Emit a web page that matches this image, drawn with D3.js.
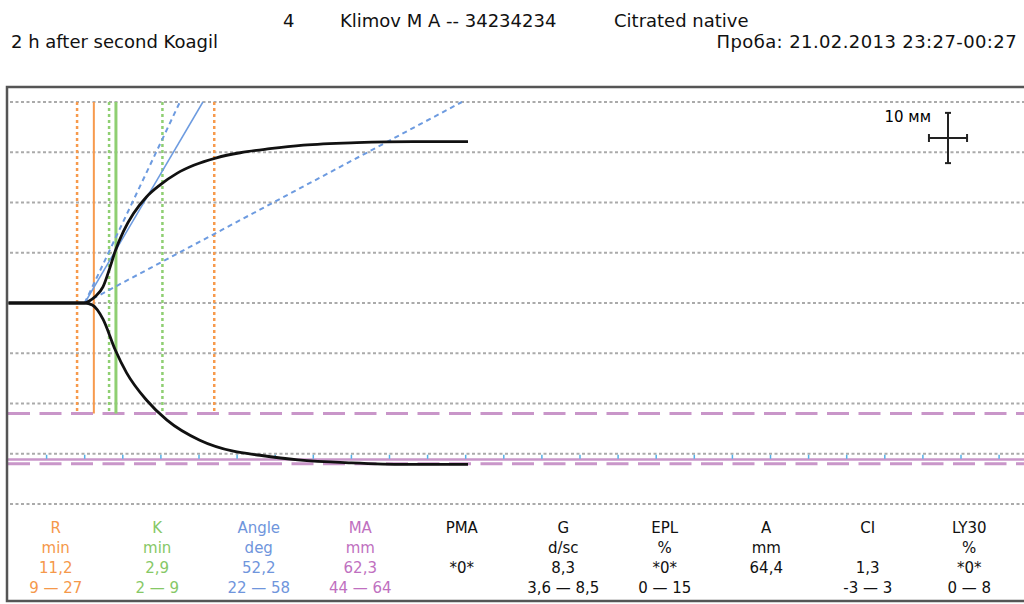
<!DOCTYPE html>
<html lang="en">
	<head>
		<meta charset="utf-8">
		<title>TEG</title>
		<script type="text/javascript" src="https://cdn.jsdelivr.net/npm/d3@7"></script>
		<style type="text/css">
			body { margin: 0; background: #fff; }
			svg { display: block; font-family: "DejaVu Sans", sans-serif; }
		</style>
	</head>
	<body>
		<script type="text/javascript">

			//Curve branches (mm from baseline) over time (min)
			let upperTime = [0, 10, 10.6, 11.35, 12.4, 13.3, 14.0, 15.1, 16.4, 18.1, 19.9, 22.1, 24.3, 27.3, 30.4, 34.3, 38.7, 45.7, 53.1, 60.3];
			let upperAmp  = [0, 0, 0.4, 1.25, 3.2, 7.0, 10.3, 14.3, 17.8, 21.1, 23.5, 25.8, 27.4, 28.9, 29.9, 30.7, 31.4, 31.9, 32.1, 32.1];
			let lowerTime = [0, 10, 11.0, 12.4, 14.0, 15.5, 18.1, 20.8, 25.1, 29.5, 33.0, 38.0, 45.0, 52.0, 60.3];
			let lowerAmp  = [0, 0, 0.4, 3.2, 9.3, 13.9, 19.3, 23.3, 27.3, 29.5, 30.3, 31.2, 31.8, 32.1, 32.1];

			//Results
			let splitTime = 10;
			let rValue = 11.2, rRange = [9, 27];
			let kValue = 2.9, kRange = [2, 9];
			let angleValue = 52.2, angleRange = [22, 58];
			let maValue = 62.3, maRange = [44, 64];

			//Grid and ticks
			let gridMM = [-40, -30, -20, -10, 0, 10, 20, 30, 40];
			let timeTicks = d3.range(5, 135, 5);

			//Table
			let colNames  = ["R", "K", "Angle", "MA", "PMA", "G", "EPL", "A", "CI", "LY30"];
			let colUnits  = ["min", "min", "deg", "mm", "", "d/sc", "%", "mm", "", "%"];
			let colValues = ["11,2", "2,9", "52,2", "62,3", "*0*", "8,3", "*0*", "64,4", "1,3", "*0*"];
			let colRanges = ["9 \u2014 27", "2 \u2014 9", "22 \u2014 58", "44 \u2014 64", "", "3,6 \u2014 8,5", "0 \u2014 15", "", "-3 \u2014 3", "0 \u2014 8"];
			let colColors = ["#f5984a", "#86c866", "#6f95dc", "#c070c0", "#111", "#111", "#111", "#111", "#111", "#111"];

			let w = 1024, h = 604;
			let orange = "#f79a4c", green = "#8fcf72", blue = "#6d9be0", pink = "#c996c9";

			let svg = d3.select("body").append("svg")
						.attr("width", w)
						.attr("height", h);

			let x = d3.scaleLinear().domain([0, 60]).range([8.5, 465.7]);
			let y = d3.scaleLinear().domain([-40, 40]).range([504, 102]);

			//Header
			let head = svg.append("g").style("font-size", "18px").attr("fill", "#111");
			head.append("text").attr("x", 283).attr("y", 27).text("4");
			head.append("text").attr("x", 340).attr("y", 27).text("Klimov M A -- 34234234");
			head.append("text").attr("x", 614).attr("y", 27).text("Citrated native");
			head.append("text").attr("x", 11).attr("y", 48).text("2 h after second Koagil");
			head.append("text").attr("x", 1017).attr("y", 48).attr("text-anchor", "end")
				.style("letter-spacing", "0.4px")
				.text("\u041f\u0440\u043e\u0431\u0430: 21.02.2013 23:27-00:27");

			//Grid
			svg.selectAll(".grid")
			   .data(gridMM)
			   .enter()
			   .append("line")
			   .attr("x1", 10).attr("x2", w)
			   .attr("y1", (d)=> y(d)).attr("y2", (d)=> y(d))
			   .attr("stroke", "#aaa")
			   .attr("stroke-width", 2)
			   .attr("stroke-dasharray", "3,2.5");

			//MA lines
			let maLines = [
				{ v: -maRange[0] / 2, dash: "22,9.5", sw: 3 },
				{ v: -maValue / 2, dash: null, sw: 2.5 },
				{ v: -maRange[1] / 2, dash: "22,9.5", sw: 3 }
			];
			svg.selectAll(".ma")
			   .data(maLines)
			   .enter()
			   .append("line")
			   .attr("x1", 8).attr("x2", w)
			   .attr("y1", (d)=> y(d.v)).attr("y2", (d)=> y(d.v))
			   .attr("stroke", pink)
			   .attr("stroke-width", (d)=> d.sw)
			   .attr("stroke-dasharray", (d)=> d.dash);

			//Blue time ticks
			svg.selectAll(".tick")
			   .data(timeTicks)
			   .enter()
			   .append("line")
			   .attr("x1", (d)=> x(d)).attr("x2", (d)=> x(d))
			   .attr("y1", y(-30.2)).attr("y2", y(-31))
			   .attr("stroke", "#55b0e8")
			   .attr("stroke-width", 1.5);

			//Vertical markers
			let vLines = [
				{ t: rRange[0], c: orange, dash: "3,3", sw: 2.5 },
				{ t: rRange[1], c: orange, dash: "3,3", sw: 2.5 },
				{ t: rValue, c: orange, dash: null, sw: 2 },
				{ t: rValue + kRange[0], c: green, dash: "3,3", sw: 2.5 },
				{ t: rValue + kRange[1], c: green, dash: "3,3", sw: 2.5 },
				{ t: rValue + kValue, c: green, dash: null, sw: 3 }
			];
			svg.selectAll(".vline")
			   .data(vLines)
			   .enter()
			   .append("line")
			   .attr("x1", (d)=> x(d.t)).attr("x2", (d)=> x(d.t))
			   .attr("y1", y(40)).attr("y2", y(-maRange[0] / 2))
			   .attr("stroke", (d)=> d.c)
			   .attr("stroke-width", (d)=> d.sw)
			   .attr("stroke-dasharray", (d)=> d.dash);

			//Angle lines (2 mm per minute)
			let angles = [
				{ a: angleRange[0], dash: "5,4", sw: 2 },
				{ a: angleRange[1], dash: "5,4", sw: 2 },
				{ a: angleValue, dash: null, sw: 1.5 }
			];
			svg.selectAll(".angle")
			   .data(angles)
			   .enter()
			   .append("line")
			   .attr("x1", x(splitTime)).attr("y1", y(0))
			   .attr("x2", (d)=> x(splitTime + 40 / (2 * Math.tan(d.a * Math.PI / 180))))
			   .attr("y2", y(40))
			   .attr("stroke", blue)
			   .attr("stroke-width", (d)=> d.sw)
			   .attr("stroke-dasharray", (d)=> d.dash);

			//Curve
			let line = d3.line()
						 .x((d)=> x(d[0]))
						 .y((d)=> y(d[1]))
						 .curve(d3.curveMonotoneX);
			let branches = [
				upperTime.map((t, i)=> [t, upperAmp[i]]),
				lowerTime.map((t, i)=> [t, -lowerAmp[i]])
			];
			svg.selectAll(".curve")
			   .data(branches)
			   .enter()
			   .append("path")
			   .attr("d", line)
			   .attr("fill", "none")
			   .attr("stroke", "#111")
			   .attr("stroke-width", 2.8);

			//Scale cross: 10 mm up, 5 min across
			let cx = 948, cy = 138;
			let halfV = (y(0) - y(10)) / 2;
			let halfH = (x(5) - x(0)) / 2;
			let cross = svg.append("g").attr("stroke", "#222").attr("stroke-width", 2);
			cross.append("line").attr("x1", cx).attr("x2", cx).attr("y1", cy - halfV).attr("y2", cy + halfV);
			cross.append("line").attr("x1", cx - 3).attr("x2", cx + 3).attr("y1", cy - halfV).attr("y2", cy - halfV);
			cross.append("line").attr("x1", cx - 3).attr("x2", cx + 3).attr("y1", cy + halfV).attr("y2", cy + halfV);
			cross.append("line").attr("x1", cx - halfH).attr("x2", cx + halfH).attr("y1", cy).attr("y2", cy);
			cross.append("line").attr("x1", cx - halfH).attr("x2", cx - halfH).attr("y1", cy - 4).attr("y2", cy + 4);
			cross.append("line").attr("x1", cx + halfH).attr("x2", cx + halfH).attr("y1", cy - 4).attr("y2", cy + 4);
			svg.append("text")
			   .attr("x", 931).attr("y", 122)
			   .attr("text-anchor", "end")
			   .style("font-size", "15px")
			   .attr("fill", "#000")
			   .text("10 \u043c\u043c");

			//Frame
			svg.append("rect")
			   .attr("x", 7).attr("y", 87)
			   .attr("width", 1030).attr("height", 514)
			   .attr("fill", "none")
			   .attr("stroke", "#555")
			   .attr("stroke-width", 2.5);

			//Table
			let col = d3.scaleBand().domain(colNames).range([5, 1020]);
			let rows = [colNames, colUnits, colValues, colRanges];
			let rowY = [533, 553, 573, 593];
			rows.forEach((r, ri)=> {
				svg.selectAll(".row" + ri)
				   .data(colNames)
				   .enter()
				   .append("text")
				   .attr("x", (d)=> col(d) + col.bandwidth() / 2)
				   .attr("y", rowY[ri])
				   .attr("text-anchor", "middle")
				   .style("font-size", "15px")
				   .attr("fill", (d, i)=> colColors[i])
				   .text((d, i)=> r[i]);
			});

		</script>
	</body>
</html>
